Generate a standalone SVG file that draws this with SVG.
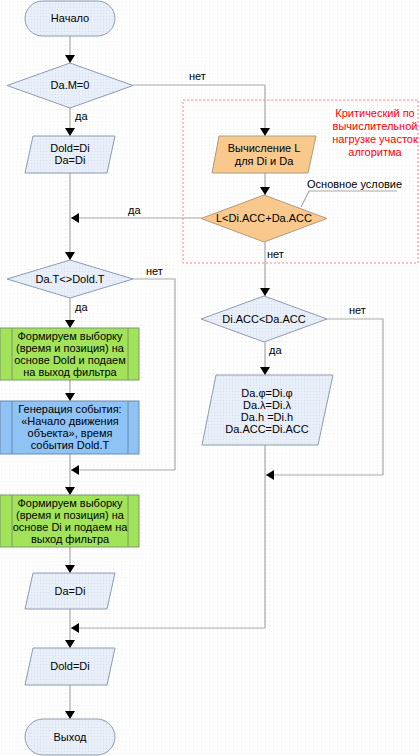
<svg xmlns="http://www.w3.org/2000/svg" width="420" height="756" viewBox="0 0 420 756">
<defs>
<pattern id="dots" width="4" height="4" patternUnits="userSpaceOnUse"><rect width="4" height="4" fill="#ffffff"/><rect x="1" y="1" width="1" height="1" fill="#e4e4ec"/></pattern>
<pattern id="bdots" width="3" height="3" patternUnits="userSpaceOnUse"><rect width="3" height="3" fill="#e9eff8"/><rect x="1" y="1" width="1" height="1" fill="#d6dff0"/></pattern>
<marker id="arr" markerWidth="8" markerHeight="10" refX="8" refY="5" orient="auto" markerUnits="userSpaceOnUse"><path d="M0,0 L8,5 L0,10 Z" fill="#000"/></marker>
<style>
.n{fill:url(#bdots);stroke:#8c9bb0;stroke-width:1}
.g{fill:#a3e35a;stroke:#7a9a6a;stroke-width:1}
.b{fill:#8fc3f5;stroke:#6a8aaa;stroke-width:1}
.o{fill:#f8c88c;stroke:#b09a80;stroke-width:1}
.l{fill:none;stroke:#a8a8a8;stroke-width:1.2}
.a{fill:none;stroke:#a8a8a8;stroke-width:1.2;marker-end:url(#arr)}
.in{stroke:#7a9a6a;stroke-width:1}
.ib{stroke:#6a8aaa;stroke-width:1}
text{font-family:"Liberation Sans",Arial,sans-serif;font-size:11px;fill:#000}
.c{text-anchor:middle}
.r{fill:#ff0000}
</style>
</defs>
<rect width="420" height="756" fill="url(#dots)"/>

<g id="critical-zone">
<rect x="183" y="100" width="235" height="163" fill="none" stroke="#ff8080" stroke-width="1" stroke-dasharray="2,2"/>
<text class="c r" x="375" y="117">Критический по</text>
<text class="c r" x="375" y="130">вычислительной</text>
<text class="c r" x="375" y="143">нагрузке участок</text>
<text class="c r" x="375" y="156">алгоритма</text>
</g>

<g id="connectors">
<path class="a" d="M70,36 V63"/>
<path class="l" d="M133,85 H265"/>
<path class="a" d="M265,85 V136"/>
<path class="a" d="M70,108 V136"/>
<path class="a" d="M70,173 V260"/>
<path class="a" d="M265,173 V195"/>
<path class="a" d="M201,218 H71"/>
<path class="a" d="M265,242 V296"/>
<path class="l" d="M133,279 H175 V470"/>
<path class="a" d="M175,470 H71"/>
<path class="a" d="M70,298 V328"/>
<path class="a" d="M70,380 V401"/>
<path class="a" d="M70,454 V495"/>
<path class="a" d="M70,547 V573"/>
<path class="a" d="M70,609 V648"/>
<path class="a" d="M70,685 V719"/>
<path class="l" d="M327,319 H383 V475"/>
<path class="a" d="M383,475 H266"/>
<path class="a" d="M265,342 V375"/>
<path class="l" d="M265,445 V628"/>
<path class="a" d="M265,628 H71"/>
<path class="l" d="M301,207 L309,191 H397"/>
<text x="189" y="80">нет</text>
<text x="75" y="120">да</text>
<text x="128" y="214">да</text>
<text x="146" y="275">нет</text>
<text x="75" y="311">да</text>
<text x="267" y="258">нет</text>
<text x="349" y="314">нет</text>
<text x="269" y="354">да</text>
<text x="307" y="188">Основное условие</text>
</g>

<g id="start">
<rect class="n" x="25" y="1" width="90" height="35" rx="17.5"/>
<text class="c" x="70" y="22">Начало</text>
</g>
<g id="dam0">
<path class="n" d="M70,63 L133,85.5 L70,108 L7,85.5 Z"/>
<text class="c" x="70" y="89">Da.M=0</text>
</g>
<g id="dold-da">
<path class="n" d="M33,136 H115 L107,173 H25 Z"/>
<text class="c" x="70" y="152">Dold=Di</text>
<text class="c" x="70" y="164">Da=Di</text>
</g>
<g id="calc-l">
<path class="o" d="M219,136 H316 L308,173 H212 Z"/>
<text class="c" x="264" y="152">Вычисление L</text>
<text class="c" x="264" y="165">для Di и Da</text>
</g>
<g id="main-cond">
<path class="o" d="M264,195 L327,218.5 L264,242 L201,218.5 Z"/>
<text class="c" x="264" y="222">L&lt;Di.ACC+Da.ACC</text>
</g>
<g id="dat-cond">
<path class="n" d="M70,260 L133,279 L70,298 L7,279 Z"/>
<text class="c" x="70" y="283">Da.T&lt;&gt;Dold.T</text>
</g>
<g id="form1">
<rect class="g" x="0" y="328" width="139" height="52"/>
<line class="in" x1="12" y1="328" x2="12" y2="380"/>
<line class="in" x1="128" y1="328" x2="128" y2="380"/>
<text class="c" x="70" y="340">Формируем выборку</text>
<text class="c" x="70" y="352">(время и позиция) на</text>
<text class="c" x="70" y="364">основе Dold и подаем</text>
<text class="c" x="70" y="376">на выход фильтра</text>
</g>
<g id="event">
<rect class="b" x="0" y="401" width="139" height="53"/>
<line class="ib" x1="12" y1="401" x2="12" y2="454"/>
<line class="ib" x1="128" y1="401" x2="128" y2="454"/>
<text class="c" x="70" y="413">Генерация события:</text>
<text class="c" x="70" y="425">«Начало движения</text>
<text class="c" x="70" y="437">объекта», время</text>
<text class="c" x="70" y="449">события Dold.T</text>
</g>
<g id="form2">
<rect class="g" x="0" y="495" width="139" height="52"/>
<line class="in" x1="12" y1="495" x2="12" y2="547"/>
<line class="in" x1="128" y1="495" x2="128" y2="547"/>
<text class="c" x="70" y="507">Формируем выборку</text>
<text class="c" x="70" y="519">(время и позиция) на</text>
<text class="c" x="70" y="531">основе Di и подаем на</text>
<text class="c" x="70" y="543">выход фильтра</text>
</g>
<g id="acc-cond">
<path class="n" d="M264,296 L327,319 L264,342 L201,319 Z"/>
<text class="c" x="264" y="323">Di.ACC&lt;Da.ACC</text>
</g>
<g id="assign">
<path class="n" d="M216,375 H333 L318,445 H202 Z"/>
<text class="c" x="267" y="397">Da.φ=Di.φ</text>
<text class="c" x="267" y="409">Da.λ=Di.λ</text>
<text class="c" x="267" y="421">Da.h =Di.h</text>
<text class="c" x="267" y="433">Da.ACC=Di.ACC</text>
</g>
<g id="da-di">
<path class="n" d="M33,573 H115 L107,609 H25 Z"/>
<text class="c" x="70" y="595">Da=Di</text>
</g>
<g id="dold-di">
<path class="n" d="M33,648 H115 L107,685 H25 Z"/>
<text class="c" x="70" y="670">Dold=Di</text>
</g>
<g id="end">
<rect class="n" x="25" y="719" width="90" height="36" rx="18"/>
<text class="c" x="70" y="741">Выход</text>
</g>
</svg>
